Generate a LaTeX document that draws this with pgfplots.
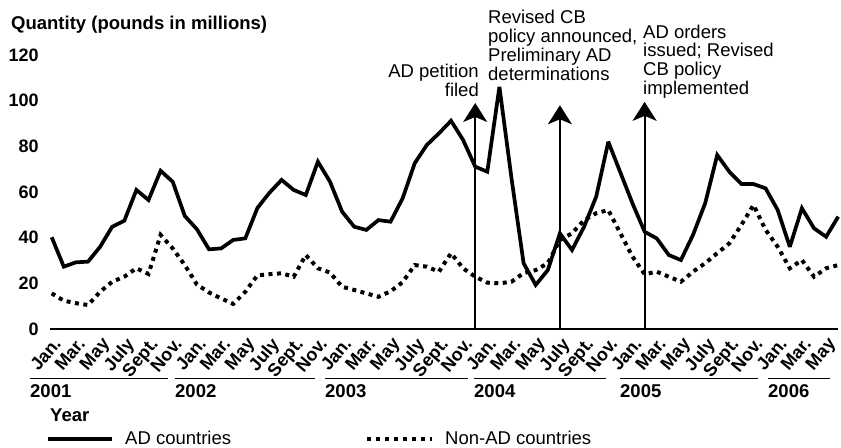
\documentclass[border=0pt]{standalone}
\usepackage{pgfplots}
\pgfplotsset{compat=1.18}
\usepackage{fontspec}
\setmainfont{Liberation Sans}
\usetikzlibrary{arrows.meta}
\newcommand{\fs}{\fontsize{18.5bp}{19bp}\selectfont}
\newcommand{\fm}{\fontsize{18bp}{19bp}\selectfont}

\pgfplotstableread{
i ad nonad
0 40.2 15.6
1 27.3 12.4
2 29.2 11.3
3 29.5 10.5
4 36.0 16.3
5 44.8 20.7
6 47.4 22.9
7 60.9 26.6
8 56.5 24.1
9 69.3 41.2
10 64.5 35.3
11 49.5 28.0
12 43.7 19.5
13 34.9 16.0
14 35.3 13.4
15 39.0 11.0
16 39.7 16.3
17 53.0 23.5
18 59.7 24.0
19 65.3 24.4
20 60.9 22.9
21 58.7 32.4
22 73.3 26.6
23 64.5 24.7
24 51.4 18.5
25 44.8 17.1
26 43.4 15.6
27 47.7 14.1
28 47.0 16.5
29 57.2 20.5
30 72.6 28.0
31 80.6 27.3
32 85.7 25.1
33 91.2 33.2
34 82.8 26.6
35 71.1 22.9
36 68.9 20.3
37 106.1 20.0
38 66.0 20.7
39 28.8 24.5
40 19.3 25.8
41 25.8 28.8
42 41.9 39.0
43 34.6 41.9
44 44.8 47.7
45 58.0 50.7
46 82.0 52.1
47 68.5 41.9
48 55.0 31.7
49 42.6 24.0
50 39.7 25.1
51 32.4 22.9
52 30.2 20.7
53 41.2 25.1
54 55.0 28.8
55 76.2 33.2
56 68.9 37.5
57 63.5 45.6
58 63.5 54.3
59 61.6 43.4
60 52.1 36.0
61 36.0 26.6
62 52.9 30.2
63 44.1 22.9
64 40.4 26.6
65 49.2 28.0
}\datatable

\begin{document}
\begin{tikzpicture}
\begin{axis}[
  x=12.1bp, y=2.283bp,
  xmin=-0.15, xmax=65, ymin=0, ymax=120,
  clip=false,
  axis x line*=bottom, axis y line*=left,
  x axis line style={-, line width=2bp},
  y axis line style={draw=none},
  major tick length=0pt,
  xtick={0,2,...,64},
  xticklabels={Jan.,Mar.,May,July,Sept.,Nov.,Jan.,Mar.,May,July,Sept.,Nov.,Jan.,Mar.,May,July,Sept.,Nov.,Jan.,Mar.,May,July,Sept.,Nov.,Jan.,Mar.,May,July,Sept.,Nov.,Jan.,Mar.,May},
  xticklabel style={font=\bfseries\fm, rotate=50, anchor=north east, inner sep=0pt, xshift=-5bp, yshift=-5bp},
  ytick={0,20,...,120},
  yticklabels={0,20,40,60,80,100,120},
  yticklabel style={font=\bfseries\fm, anchor=east, inner sep=0pt, xshift=-11bp},
]
\addplot[line width=3.7bp, line join=miter, miter limit=3] table[x=i, y=ad] {\datatable};
\addplot[line width=4bp, dash pattern=on 4bp off 4.5bp] table[x=i, y=nonad] {\datatable};
\draw[line width=2bp, -{Stealth[length=19bp, width=24bp, inset=5bp]}] (axis cs:35,0) -- (axis cs:35,99);
\draw[line width=2bp, -{Stealth[length=19bp, width=24bp, inset=5bp]}] (axis cs:42,0) -- (axis cs:42,98);
\draw[line width=2bp, -{Stealth[length=19bp, width=24bp, inset=5bp]}] (axis cs:49,0) -- (axis cs:49,99.5);
\coordinate (O) at (axis cs:0,0);
\end{axis}
\begin{scope}[shift={(O)}, xshift=-51.7bp, yshift=329bp, x=1bp, y=-1bp]
  \node[anchor=west, inner sep=0pt, font=\bfseries\fs] at (11,25) {Quantity (pounds in millions)};
  \node[anchor=west, inner sep=0pt, font=\bfseries\fs] at (50,415) {Year};
  \foreach \a/\b/\yr in {30/168/2001, 175/315/2002, 325/468/2003, 474/606/2004, 620/758/2005, 768/830/2006} {
    \draw[line width=1bp] (\a,379) -- (\b,379);
    \node[anchor=west, inner sep=0pt, font=\bfseries\fs] at (\a,391) {\yr};
  }
  \begin{scope}[every node/.style={inner sep=0pt, font=\fs}]
    \node[anchor=base east] at (479,78) {AD petition};
    \node[anchor=base east] at (479,96.5) {filed};
    \node[anchor=base west] at (488,23.3) {Revised CB};
    \node[anchor=base west] at (488,42.3) {policy announced,};
    \node[anchor=base west] at (488,61.3) {Preliminary AD};
    \node[anchor=base west] at (488,80.3) {determinations};
    \node[anchor=base west] at (643,38.3) {AD orders};
    \node[anchor=base west] at (643,57) {issued; Revised};
    \node[anchor=base west] at (643,75.7) {CB policy};
    \node[anchor=base west] at (643,94.4) {implemented};
  \end{scope}
  \draw[line width=4bp] (48,439) -- (112,439);
  \node[anchor=base west, inner sep=0pt, font=\fs] at (125,444.5) {AD countries};
  \draw[line width=4bp, dash pattern=on 4bp off 5bp] (367,439) -- (432,439);
  \node[anchor=base west, inner sep=0pt, font=\fs] at (445,444.5) {Non-AD countries};
  \pgfresetboundingbox
  \useasboundingbox (0,0) rectangle (841,448);
\end{scope}
\end{tikzpicture}
\end{document}
